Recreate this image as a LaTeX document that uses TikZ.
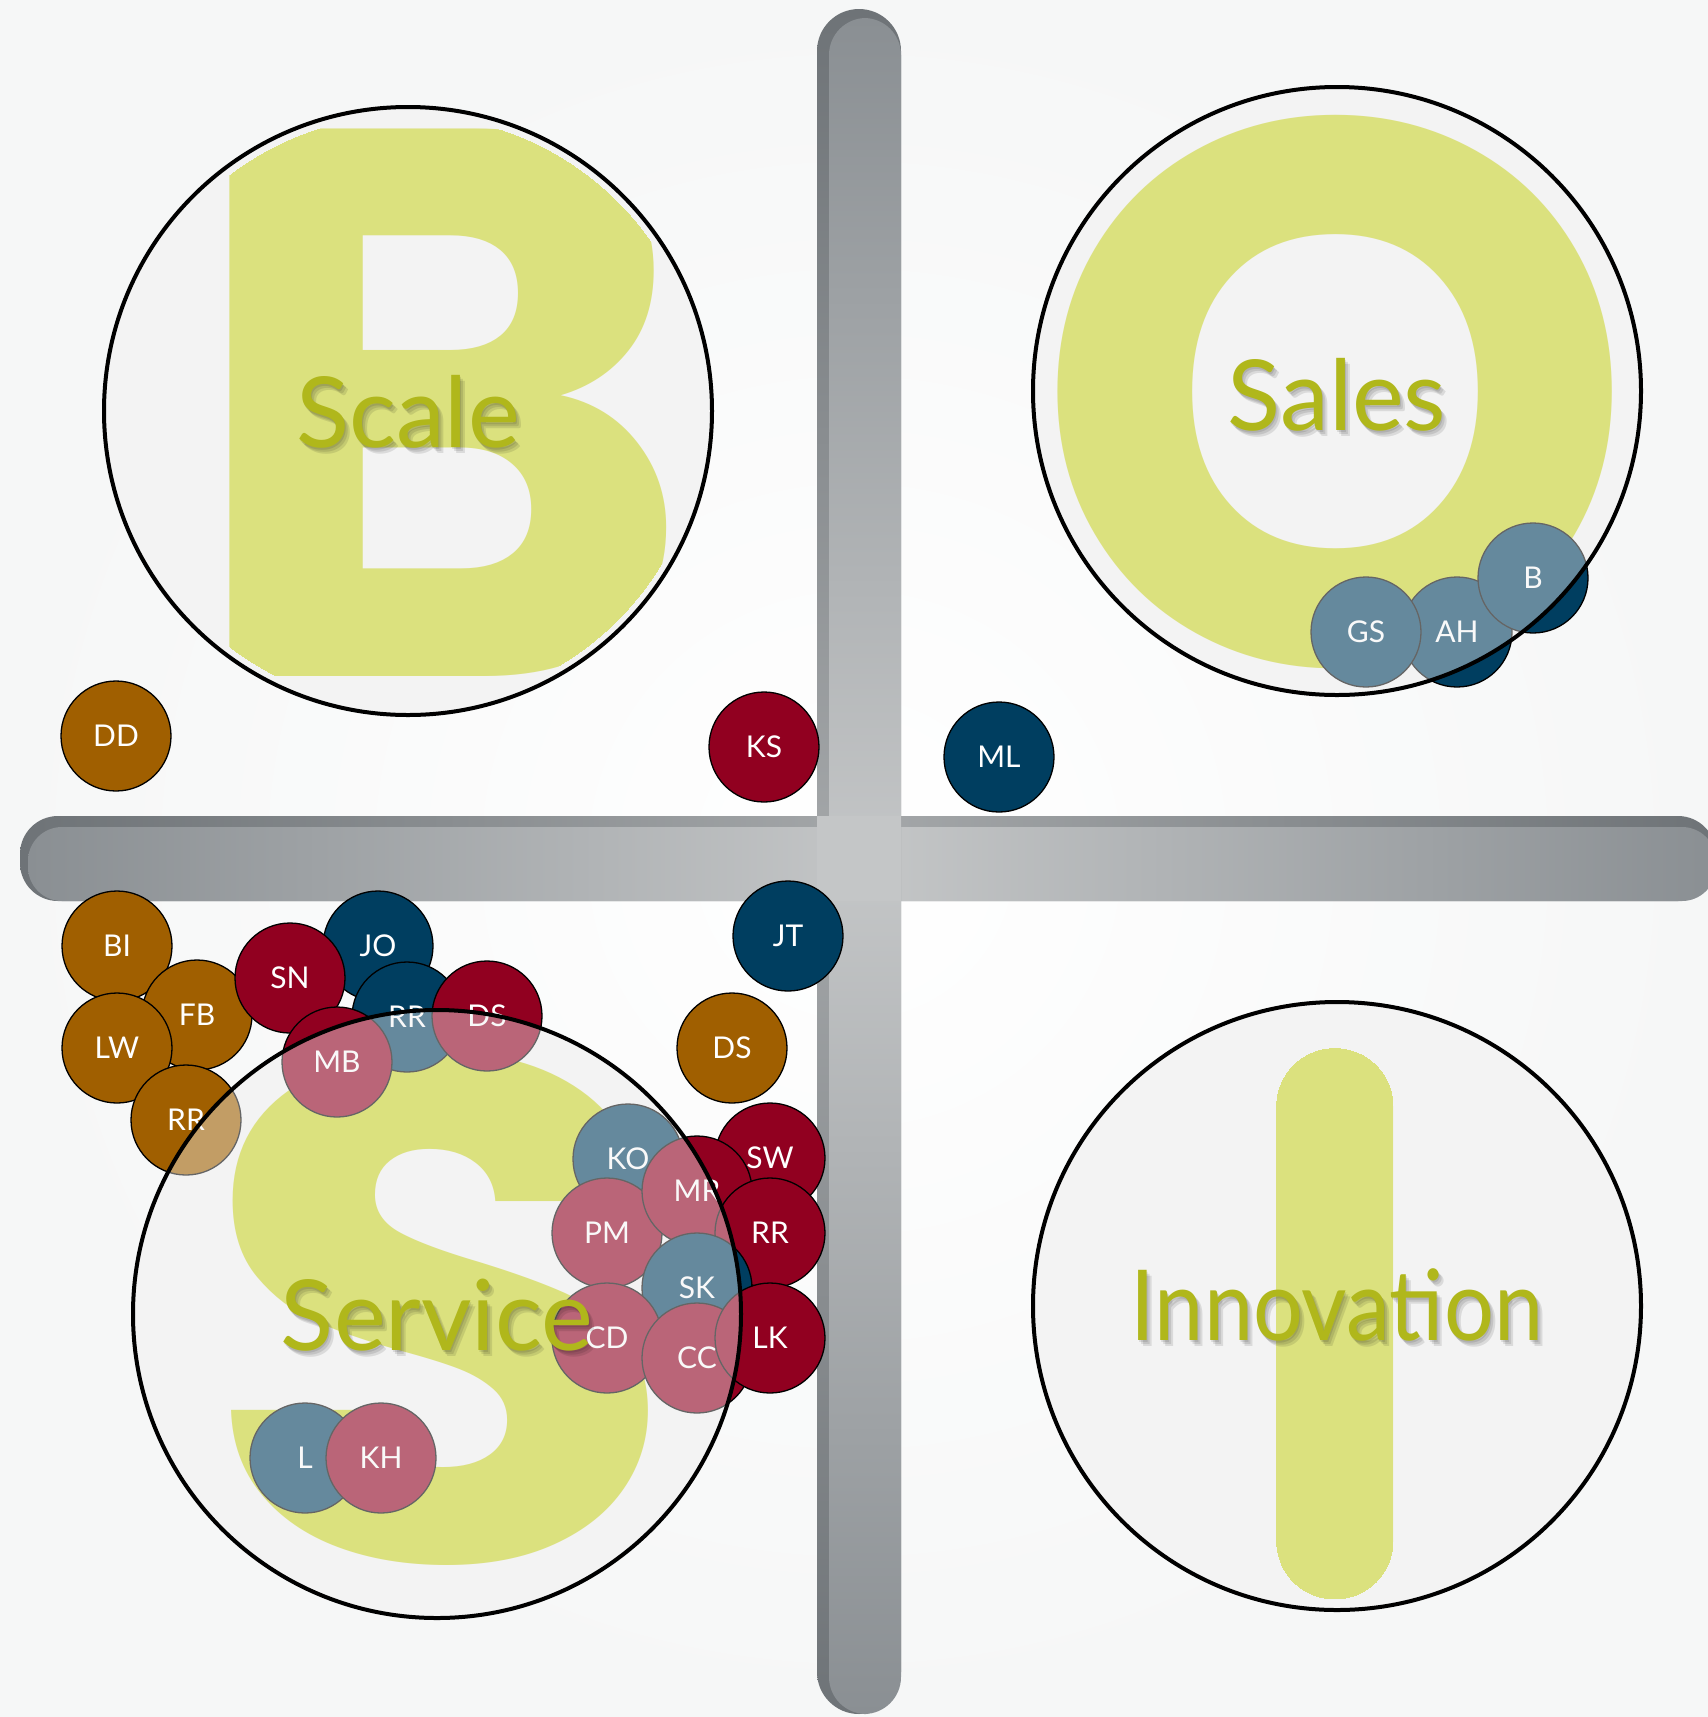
\documentclass[tikz,border=0pt]{standalone}
\usepackage{fontspec}
\setmainfont{Lato}
\newfontfamily\bigf{Poppins}
\definecolor{cbrown}{HTML}{A05F00}
\definecolor{cred}{HTML}{910020}
\definecolor{cblue}{HTML}{003E60}
\definecolor{cgrey}{HTML}{F3F3F3}
\definecolor{cletter}{HTML}{CBD42B}
\definecolor{cword}{HTML}{B0B71B}
\definecolor{bgin}{HTML}{FFFFFF}
\definecolor{bgout}{HTML}{F6F7F7}
\definecolor{barEnd}{HTML}{8A8F93}
\definecolor{barMid}{HTML}{C4C6C7}
\definecolor{barEndD}{HTML}{6E7377}
\definecolor{barMidD}{HTML}{A4A7A9}
\tikzset{
  bub/.style={circle, draw=black, line width=1.3pt, minimum size=110pt, inner sep=0pt,
    text=white, font=\fontsize{30}{30}\selectfont, text height=21.5pt, text depth=0pt},
  bigcirc/.style={line width=4pt, draw=black},
  word/.style={text=cword, font=\fontsize{98}{98}\selectfont, anchor=base, inner sep=0pt},
  wshadow/.style={text=black, opacity=0.10, font=\fontsize{98}{98}\selectfont, anchor=base, inner sep=0pt},
  bigletter/.style={text=cletter, anchor=base, inner sep=0pt},
}
\begin{document}
\begin{tikzpicture}[x=1pt,y=-1pt]
\useasboundingbox (0,0) rectangle (1708,1717);
% background
\shade[inner color=bgin, outer color=bgout] (0,0) rectangle (1708,1717);

% horizontal bar
\shade[left color=barEndD, right color=barEndD, middle color=barMidD, rounded corners=38pt] (20,816) rectangle (1716,901);
\shade[left color=barEnd, right color=barEnd, middle color=barMid, rounded corners=34pt] (28,827) rectangle (1716,901);
% vertical bar
\shade[top color=barEndD, bottom color=barEndD, middle color=barMidD, rounded corners=42pt] (817,9) rectangle (901,1714);
\shade[top color=barEnd, bottom color=barEnd, middle color=barMid, rounded corners=37pt] (829,18) rectangle (901,1714);
\fill[barMid] (817,816) rectangle (901,901);

% circle bases
\coordinate (cB) at (408,411);
\coordinate (cO) at (1337,391);
\coordinate (cS) at (437,1314);
\coordinate (cI) at (1337,1306);
\foreach \c in {cB,cO,cS,cI} \fill[cgrey] (\c) circle (304pt);

% big letters
\begin{scope}
\clip (cB) circle (296pt);
\node[bigletter, font=\bigf\bfseries\fontsize{780}{780}\selectfont] (bigB) at (439,676) {B};
\end{scope}
\begin{scope}
\clip (cO) circle (296pt);
\node[bigletter, font=\bigf\bfseries\fontsize{770}{770}\selectfont] (bigO) at (1335,663) {O};
\end{scope}
\begin{scope}
\clip (cS) circle (296pt);
\node[bigletter, font=\bigf\bfseries\fontsize{715}{715}\selectfont] (bigS) at (440,1560) {\scalebox{1.1}[1]{S}};
\end{scope}
\begin{scope}
\clip (cI) circle (296pt);
\clip[rounded corners=58pt] (1276,1048) rectangle (1393,1599);
\node[bigletter, font=\bigf\bfseries\fontsize{787}{787}\selectfont] (bigI) at (1335,1599) {\scalebox{0.873}[1]{I}};
\end{scope}

% bubbles
\node[bub, fill=cbrown] (dd) at (116,736) {DD};
\node[bub, fill=cred] (ks) at (764,747) {KS};
\node[bub, fill=cblue] (ml) at (999,757) {ML};
\node[bub, fill=cblue] (ah) at (1457,632) {AH};
\node[bub, fill=cblue] (gs) at (1366,632) {GS};
\node[bub, fill=cblue] (b) at (1533,578) {B};
\node[bub, fill=cbrown] (bi) at (117,946) {BI};
\node[bub, fill=cbrown] (fb) at (197,1015) {FB};
\node[bub, fill=cbrown] (lw) at (117,1048) {LW};
\node[bub, fill=cbrown] (rra) at (186,1120) {RR};
\node[bub, fill=cblue] (jo) at (378,946) {JO};
\node[bub, fill=cred] (sn) at (290,978) {SN};
\node[bub, fill=cblue] (rrb) at (407,1017) {RR};
\node[bub, fill=cred] (dsa) at (487,1016) {DS};
\node[bub, fill=cred] (mb) at (337,1062) {MB};
\node[bub, fill=cblue] (jt) at (788,936) {JT};
\node[bub, fill=cbrown] (dsb) at (732,1048) {DS};
\node[bub, fill=cblue] (ko) at (628,1159) {KO};
\node[bub, fill=cred] (sw) at (770,1158) {SW};
\node[bub, fill=cred] (pm) at (607,1233) {PM};
\node[bub, fill=cred] (mr) at (697,1191) {MR};
\node[bub, fill=cred] (rrc) at (770,1233) {RR};
\node[bub, fill=cblue] (sk) at (697,1288) {SK};
\node[bub, fill=cred] (cd) at (607,1338) {CD};
\node[bub, fill=cred] (cc) at (697,1358) {CC};
\node[bub, fill=cred] (lk) at (770,1338) {LK};
\node[bub, fill=cblue] (l) at (305,1458) {L};
\node[bub, fill=cred] (kh) at (381,1458) {KH};

% translucent circle overlays and borders
\foreach \c in {cB,cO,cS,cI} {
  \fill[cgrey, opacity=0.42] (\c) circle (304pt);
  \draw[bigcirc] (\c) circle (304pt);
}

% words with soft shadows
\foreach \dx/\dy in {1/2,3/4,5/6} {
  \node[wshadow] at (408+\dx,447+\dy) {Scale};
  \node[wshadow] at (1337+\dx,430+\dy) {Sales};
  \node[wshadow] at (437+\dx,1350+\dy) {Service};
  \node[wshadow] at (1337+\dx,1340+\dy) {\scalebox{0.9}[1]{Innovation}};
}
\node[word] (wScale) at (408,447) {Scale};
\node[word] (wSales) at (1337,430) {Sales};
\node[word] (wService) at (437,1350) {Service};
\node[word] (wInnov) at (1337,1340) {\scalebox{0.9}[1]{Innovation}};
\end{tikzpicture}
\end{document}
